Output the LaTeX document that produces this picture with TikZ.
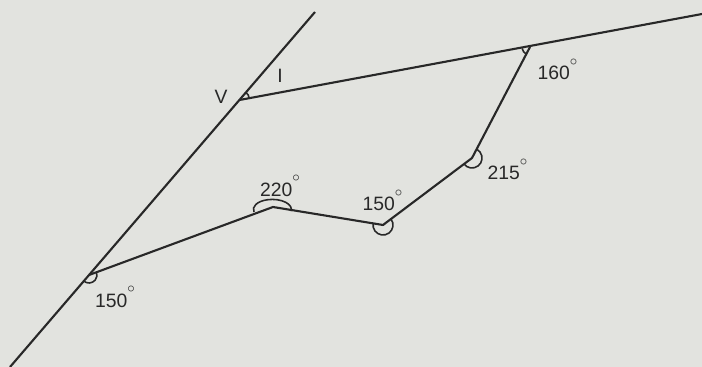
\documentclass[tikz,border=0pt]{standalone}
\usepackage{fontspec}
\setmainfont{Liberation Sans}
\usetikzlibrary{angles}
\definecolor{paper}{RGB}{226,227,223}
\definecolor{ink}{RGB}{40,40,40}
\tikzstyle{edge} = [ink, line width=1.2pt]
\tikzstyle{anglemark} = [draw=ink, line width=0.9pt, angle radius=0.2cm]
\tikzstyle{lbl} = [text=ink, font=\fontsize{11}{13}\selectfont, inner sep=1pt]
\newcommand{\dg}{\raisebox{1.4ex}{\fontsize{8}{9}\selectfont$\circ$}}

\begin{document}
\begin{tikzpicture}

% paper
\fill[paper] (0,0) rectangle (14.04,7.34);
\useasboundingbox (0,0) rectangle (14.04,7.34);

% points
\coordinate (A) at (0.2,0);
\coordinate (B) at (6.3,7.1);
\coordinate (V) at (4.79,5.34);
\coordinate (E) at (14.04,7.06);
\coordinate (p160) at (10.6,6.4);
\coordinate (p215) at (9.44,4.18);
\coordinate (p150b) at (7.66,2.84);
\coordinate (p220) at (5.46,3.2);
\coordinate (p150a) at (1.78,1.84);

% lines
\draw[edge] (A) -- (B);
\draw[edge] (V) -- (E);
\draw[edge, line join=round] (p150a) -- (p220) -- (p150b) -- (p215) -- (p160);

% angle marks
\pic[anglemark] {angle=p160--V--B};
\pic[anglemark, angle radius=0.16cm] {angle=V--p160--p215};
\pic[anglemark] {angle=p150b--p215--p160};
\pic[anglemark] {angle=p220--p150b--p215};
\draw[ink, line width=0.9pt] ([shift={(-0.38,-0.1)}]p220) arc[start angle=195, end angle=-10, x radius=0.38, y radius=0.2];
\pic[anglemark, angle radius=0.16cm] {angle=A--p150a--p220};

% labels
\node (lv) [lbl] at (4.42,5.4) {V};
\node (l1) [lbl] at (5.6,5.82) {I};
\node (l160) [lbl] at (11.15,5.95) {160\dg};
\node (l215) [lbl] at (10.15,3.95) {215\dg};
\node (l220) [lbl] at (5.6,3.62) {220\dg};
\node (l150b) [lbl] at (7.65,3.33) {150\dg};
\node (l150a) [lbl] at (2.3,1.4) {150\dg};

\end{tikzpicture}
\end{document}
